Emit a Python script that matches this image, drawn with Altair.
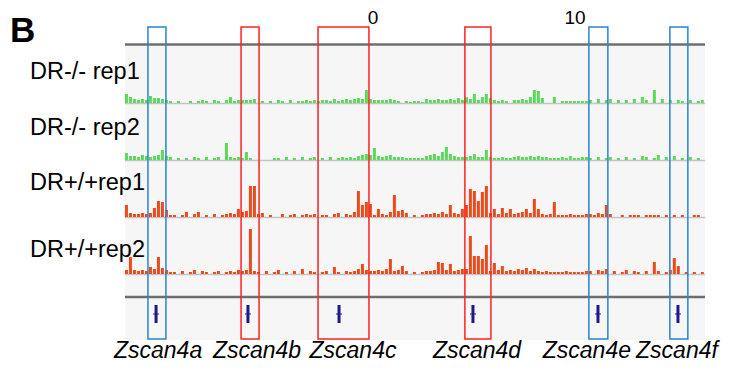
import altair as alt
import pandas as pd

# ---------------- data ----------------
RULER_TICKS_KB = [0, 10]
TRACK_NAMES = ["DR-/- rep1", "DR-/- rep2", "DR+/+rep1", "DR+/+rep2"]
TRACK_COLORS = ["#5ad95a", "#5ad95a", "#ea4a1c", "#ea4a1c"]

# signal heights per 0.198-kb bin, starting at -12.28 kb
SIG_KO_REP1 = [9,6,4,3,4,3,7,5,5,4,3,2,
    0,2,0,0,2,0,2,3,2,0,3,2,0,
    3,6,2,3,
    3,3,3,4,
    0,2,0,2,0,
    3,2,0,3,0,2,
    2,3,2,3,2,3,
    3,2,4,2,3,4,3,4,5,4,13,
    4,3,3,3,3,4,3,2,
    0,2,1,2,2,1,
    4,3,3,4,3,3,4,3,5,3,
    6,4,9,3,
    6,9,5,3,
    2,3,2,0,
    3,3,4,3,6,13,12,5,
    0,0,6,
    0,2,2,2,2,2,2,2,
    3,0,4,0,3,4,0,3,0,3,0,4,0,6,3,0,13,0,4,0,3,0,3,2,0,3,0,2,3]
SIG_KO_REP2 = [7,4,4,3,5,4,3,4,5,10,4,3,
    0,2,0,2,0,3,2,0,3,0,2,3,0,
    17,3,2,3,
    2,8,2,0,
    0,0,0,0,2,
    2,0,3,0,2,0,
    3,0,2,3,0,2,
    0,3,0,2,3,2,3,2,4,5,6,
    5,12,4,3,4,5,3,3,
    3,2,2,2,2,2,
    4,5,6,4,8,13,6,4,3,3,
    3,4,6,3,
    3,10,3,2,
    2,3,2,2,
    3,4,3,3,4,3,4,3,
    3,2,2,
    2,3,2,4,2,2,3,3,
    2,0,3,0,2,3,0,2,0,3,0,2,0,4,3,0,2,5,0,3,0,4,0,2,0,3,0,2,0]
SIG_WT_REP1 = [12,4,3,3,4,3,
    4,9,16,15,7,
    2,2,
    0,2,5,0,3,5,0,2,0,3,0,2,3,4,3,8,
    5,6,31,31,
    3,4,0,2,0,0,3,0,2,3,0,2,3,2,3,0,
    2,2,0,3,4,0,3,2,
    5,26,12,15,13,
    2,8,3,2,
    5,22,6,7,4,
    0,2,0,2,
    3,3,4,3,5,3,12,
    4,3,8,
    12,28,26,16,
    25,31,4,
    8,3,9,4,8,3,
    4,5,8,4,18,
    8,3,2,3,15,
    2,2,2,3,2,2,2,3,
    3,2,4,3,12,3,
    0,0,2,0,2,2,2,0,2,2,2,2,0,2,0,2,0,2,0,0,2,2,0]
SIG_WT_REP2 = [4,17,4,3,4,3,
    7,5,17,6,4,
    2,2,
    0,3,0,2,4,0,3,2,0,2,3,0,2,3,2,4,
    3,4,45,3,
    2,0,3,0,2,4,0,2,0,3,0,5,0,3,2,0,
    2,3,0,7,2,0,3,2,
    3,5,10,4,3,
    3,4,3,5,
    15,3,4,8,3,
    0,2,0,2,
    3,3,4,12,11,4,10,
    3,4,5,
    5,38,18,18,
    15,29,3,
    11,4,8,3,4,3,
    5,4,6,3,5,
    3,2,3,2,2,
    2,2,3,2,2,2,2,3,
    3,0,4,3,5,0,
    3,0,2,4,0,3,2,0,3,0,12,3,0,2,4,16,8,0,2,0,2,0,2]
SIGNALS = [SIG_KO_REP1, SIG_KO_REP2, SIG_WT_REP1, SIG_WT_REP2]

GENES = ["Zscan4a", "Zscan4b", "Zscan4c", "Zscan4d", "Zscan4e", "Zscan4f"]
GENE_POS_KB = [-10.74, -6.19, -1.68, 4.95, 11.14, 15.10]
GENE_LABEL_KB = [-10.64, -5.74, -0.99, 5.15, 10.59, 15.05]
BOX_START_KB = [-11.14, -6.53, -2.72, 4.55, 10.69, 14.70]
BOX_END_KB = [-10.25, -5.64, -0.20, 5.84, 11.63, 15.59]
BOX_COLORS = ["#2a84d0", "#ff2222", "#ff2222", "#ff2222", "#2a84d0", "#2a84d0"]

# ---------------- layout ----------------
W, H = 715, 355
X_DOMAIN = [-18.07, 17.33]
Y_DOMAIN = [8, 363]           # vertical layout units (top -> bottom)
TRACK_START_KB = -12.28
TRACK_END_KB = 16.44
BIN_KB = 0.198
BAR_FRACTION = 0.75
TRACK_BASE = [103, 160, 217, 274]
TRACK_LABEL_Y = [72, 128, 183, 250]
LABEL_X_KB = -16.98
PANEL_TOP, PANEL_BOTTOM = 45, 340
TOP_LINE_Y, GENE_LINE_Y = 44.5, 297
BOX_TOP, BOX_BOTTOM = 27, 339
GENE_Y = 314
GENE_TEXT_Y = 358
RULER_TEXT_Y = 9
FONT = "Liberation Sans"

xs = alt.Scale(domain=X_DOMAIN, nice=False, zero=False)
ys = alt.Scale(domain=Y_DOMAIN, nice=False, zero=False, reverse=True)


def X(f):
    return alt.X(f, type="quantitative", scale=xs, axis=None)


def Y(f):
    return alt.Y(f, type="quantitative", scale=ys, axis=None)


# signal table
rows = []
for t, (name, sig) in enumerate(zip(TRACK_NAMES, SIGNALS)):
    for i, v in enumerate(sig):
        if v <= 0:
            continue
        x0 = TRACK_START_KB + i * BIN_KB
        rows.append({"track": name, "x": x0, "x2": x0 + BIN_KB * BAR_FRACTION,
                     "y": TRACK_BASE[t], "y2": TRACK_BASE[t] - v})
sig_df = pd.DataFrame(rows)

panel = alt.Chart(pd.DataFrame({"x": [TRACK_START_KB], "x2": [TRACK_END_KB],
                                "y": [PANEL_TOP], "y2": [PANEL_BOTTOM]})).mark_rect(
    fill="#f6f6f6").encode(x=X("x"), x2="x2", y=Y("y"), y2="y2")

baselines = alt.Chart(pd.DataFrame({"x": [TRACK_START_KB] * 4, "x2": [TRACK_END_KB] * 4,
                                    "y": [b + 0.5 for b in TRACK_BASE]})).mark_rule(
    color="#c4c4c4", strokeWidth=1.5).encode(x=X("x"), x2="x2", y=Y("y"))

signal = alt.Chart(sig_df).mark_rect().encode(
    x=X("x"), x2="x2", y=Y("y"), y2="y2",
    color=alt.Color("track:N", scale=alt.Scale(domain=TRACK_NAMES, range=TRACK_COLORS),
                    legend=None))

hlines = alt.Chart(pd.DataFrame({"x": [TRACK_START_KB] * 2, "x2": [TRACK_END_KB] * 2,
                                 "y": [TOP_LINE_Y, GENE_LINE_Y]})).mark_rule(
    color="#6e6e6e", strokeWidth=2.5).encode(x=X("x"), x2="x2", y=Y("y"))

gene_df = pd.DataFrame({"gene": GENES, "x": GENE_POS_KB, "label_x": GENE_LABEL_KB,
                        "y": [GENE_Y] * 6, "ty": [GENE_TEXT_Y] * 6})
gene_bar = alt.Chart(gene_df).mark_tick(orient="vertical", size=18, thickness=3,
                                        color="#1a1a8c", opacity=1).encode(
    x=X("x"), y=Y("y"))
gene_cross = alt.Chart(gene_df).mark_tick(orient="horizontal", size=6, thickness=1,
                                          color="#1a1a8c", opacity=1).encode(
    x=X("x"), y=Y("y"))
gene_text = alt.Chart(gene_df).mark_text(font=FONT, fontSize=23, fontStyle="italic",
                                         align="center", baseline="alphabetic",
                                         color="#000000").encode(
    x=X("label_x"), y=Y("ty"), text="gene:N")

box_df = pd.DataFrame({"x": BOX_START_KB, "x2": BOX_END_KB, "c": BOX_COLORS,
                       "y": [BOX_TOP] * 6, "y2": [BOX_BOTTOM] * 6})
boxes = alt.Chart(box_df).mark_rect(fillOpacity=0, strokeWidth=1.5).encode(
    x=X("x"), x2="x2", y=Y("y"), y2="y2",
    stroke=alt.Stroke("c:N", scale=None))

label_df = pd.DataFrame({"t": TRACK_NAMES, "x": [LABEL_X_KB] * 4, "y": TRACK_LABEL_Y})
labels = alt.Chart(label_df).mark_text(font=FONT, fontSize=23.5, align="left",
                                       baseline="middle", color="#000000").encode(
    x=X("x"), y=Y("y"), text="t:N")

ruler_df = pd.DataFrame({"x": RULER_TICKS_KB, "t": [str(v) for v in RULER_TICKS_KB],
                         "y": [RULER_TEXT_Y] * len(RULER_TICKS_KB)})
ruler = alt.Chart(ruler_df).mark_text(font=FONT, fontSize=19, align="center",
                                      baseline="top", color="#000000").encode(
    x=X("x"), y=Y("y"), text="t:N")

panel_letter = alt.Chart(pd.DataFrame({"t": ["B"], "x": [-17.97], "y": [42]})).mark_text(
    font=FONT, fontSize=35, fontWeight="bold", align="left", baseline="alphabetic",
    color="#000000").encode(x=X("x"), y=Y("y"), text="t:N")

chart = alt.layer(panel, baselines, signal, hlines, gene_bar, gene_cross, boxes,
                  labels, gene_text, ruler, panel_letter).properties(
    width=W, height=H, autosize=alt.AutoSizeParams(type="none"), padding=0,
    background="#ffffff").configure_view(strokeWidth=0)

chart.save("out.html", embed_options={"renderer": "svg", "actions": False})
